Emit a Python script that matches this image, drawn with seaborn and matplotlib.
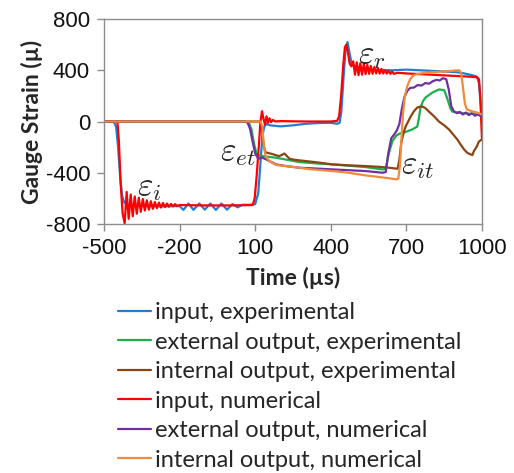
import pandas as pd
import matplotlib
matplotlib.use('Agg')
import matplotlib.pyplot as plt
import seaborn as sns

# input, experimental
t_in_exp = [-500, -462, -452, -444, -436, -428, -420, -410, -400, -350, -300, -250, -200, -185, -165, -145,
            -122, -100, -78, -56, -34, -12, 10, 30, 50, 80, 100, 112, 120, 128, 136, 145, 160, 200, 250,
            300, 350, 400, 425, 435, 442, 450, 458, 466, 474, 482, 490, 500, 520, 550, 600, 650, 700, 750,
            800, 850, 900, 930, 960, 980, 988, 994, 1000]
v_in_exp = [0, 0, -40, -200, -430, -580, -630, -650, -655, -660, -662, -662, -660, -690, -640, -690,
            -640, -688, -640, -690, -640, -688, -645, -670, -650, -650, -645, -560, -350, -120, -40, -20, -30, -38, -30,
            -18, -12, -10, -18, -10, 80, 330, 540, 620, 540, 455, 440, 430, 420, 405, 400, 400, 405, 400,
            395, 390, 385, 375, 362, 350, 300, 150, 60]

# external output, experimental
t_ext_exp = [-500, 60, 75, 85, 95, 105, 115, 130, 150, 183, 230, 276, 350, 407, 470, 539, 605, 618, 630,
             645, 660, 672, 691, 723, 743, 750, 756, 766, 776, 803, 829, 850, 862, 875, 882, 920, 960, 1000]
v_ext_exp = [0, 0, -10, -60, -170, -250, -265, -270, -275, -283, -300, -317, -328, -335, -345, -356, -374, -370, -250,
             -150, -110, -95, -86, -62, -40, 30, 109, 160, 187, 226, 250, 245, 180, 100, 78, 65, 60, 50]

# internal output, experimental
t_int_exp = [-500, 120, 127, 133, 140, 150, 160, 170, 185, 196, 206, 216, 226, 236, 260, 302, 350, 407, 470,
             539, 600, 632, 665, 672, 680, 690, 697, 707, 717, 730, 743, 755, 763, 775, 789, 810, 829, 850,
             869, 885, 902, 915, 929, 942, 955, 962, 968, 978, 988, 1000]
v_int_exp = [0, 0, -60, -180, -240, -245, -250, -255, -265, -270, -260, -250, -270, -291, -300, -309, -320, -335, -342,
             -348, -355, -361, -369, -300, -160, -80, -39, 0, 39, 80, 109, 115, 117, 105, 78, 40, 0, -30,
             -62, -100, -140, -180, -218, -245, -257, -262, -230, -200, -156, -140]

# input, numerical
t_in_num = [-500, -447, -441, -434, -426, -418, -410, -402, -394, -386, -378, -370, -362, -354, -346, -338,
            -330, -322, -314, -306, -298, -290, -282, -274, -266, -258, -250, -242, -234, -226, -218, -210,
            -200, -100, 0, 90, 98, 106, 114, 121, 127, 133, 139, 145, 151, 157, 163, 170, 180, 200, 300, 400,
            425, 433, 441, 449, 456, 462, 468, 475, 482, 489, 496, 503, 510, 517, 524, 531, 538, 545, 552,
            559, 566, 573, 580, 587, 594, 601, 608, 615, 622, 629, 636, 643, 650, 665, 700, 750, 800, 850,
            900, 950, 980, 988, 993, 997, 1000]
v_in_num = [0, 0, -150, -480, -720, -795, -550, -760, -570, -740, -585, -720, -595, -705, -605, -695,
            -615, -688, -622, -682, -628, -676, -633, -672, -636, -668, -640, -665, -643, -662, -645, -660,
            -652, -655, -655, -652, -600, -420, -200, 0, 80, 20, -25, 40, -10, 25, -5, 12, 0, 3, 0, 0,
            5, 40, 200, 430, 580, 600, 540, 450, 430, 470, 365, 462, 362, 455, 365, 450, 370, 442, 372,
            434, 372, 426, 375, 418, 374, 410, 374, 402, 374, 396, 372, 390, 372, 380, 375, 370, 365, 360,
            355, 350, 345, 330, 200, 0, -140]

# external output, numerical
t_ext_num = [-500, 60, 70, 80, 90, 100, 110, 118, 125, 144, 183, 230, 276, 350, 407, 470, 539, 605, 618,
             628, 640, 652, 662, 672, 682, 692, 704, 715, 730, 745, 760, 775, 790, 805, 820, 832, 845, 858,
             868, 878, 888, 900, 912, 924, 936, 948, 960, 972, 984, 1000]
v_ext_num = [0, 0, -10, -60, -160, -250, -283, -290, -280, -296, -335, -350, -361, -368, -374, -380, -387, -400, -395,
             -250, -130, -100, -70, -20, 100, 190, 240, 262, 265, 285, 280, 300, 295, 315, 325, 320, 338, 330,
             250, 120, 80, 65, 75, 55, 70, 50, 65, 45, 55, 35]

# internal output, numerical
t_int_num = [-500, 122, 128, 134, 140, 150, 165, 185, 230, 276, 315, 407, 470, 539, 600, 645, 660, 668,
             674, 680, 686, 694, 704, 715, 728, 745, 770, 800, 850, 880, 909, 917, 925, 932, 940, 960, 980, 1000]
v_int_num = [0, 0, -40, -180, -260, -295, -320, -340, -350, -361, -372, -387, -400, -421, -435, -447, -452, -445,
             -350, -150, 50, 200, 280, 330, 360, 372, 378, 385, 390, 395, 400, 380, 260, 140, 94, 80, 70, 55]

labels = ['input, experimental', 'external output, experimental', 'internal output, experimental',
          'input, numerical', 'external output, numerical', 'internal output, numerical']
colors = ['#1f7fd6', '#1fae4c', '#8b4513', '#ff0000', '#7030a0', '#f08a3c']
times = [t_in_exp, t_ext_exp, t_int_exp, t_in_num, t_ext_num, t_int_num]
values = [v_in_exp, v_ext_exp, v_int_exp, v_in_num, v_ext_num, v_int_num]

df = pd.concat([pd.DataFrame({'t': t, 'v': v, 'series': name})
                for t, v, name in zip(times, values, labels)], ignore_index=True)

sns.set_theme(style='white')
plt.rcParams['font.family'] = ['Liberation Sans', 'DejaVu Sans']
plt.rcParams['mathtext.fontset'] = 'cm'
plt.rcParams['axes.unicode_minus'] = False

fig = plt.figure(figsize=(5.14, 4.73), dpi=100)
ax = fig.add_axes([104 / 514, 1 - 224 / 473, 378 / 514, 205 / 473])

sns.lineplot(data=df, x='t', y='v', hue='series', hue_order=labels, palette=colors,
             sort=False, estimator=None, lw=1.6, ax=ax)

ax.set_xlim(-500, 1000)
ax.set_ylim(-800, 800)
ax.set_xticks([-500, -200, 100, 400, 700, 1000])
ax.set_yticks([-800, -400, 0, 400, 800])
for s in ax.spines.values():
    s.set_color('#8c8c8c')
    s.set_linewidth(1.0)
ax.tick_params(axis='both', direction='out', length=5, width=1, color='#8c8c8c',
               labelsize=16, pad=5, left=True, bottom=True, labelcolor='#111111')

ax.set_xlabel('Time (µs)', fontsize=16.5, fontweight='bold', family='Lato', labelpad=6)
ax.set_ylabel('Gauge Strain (µ)', fontsize=16.5, fontweight='bold', family='Lato', labelpad=2)

ax.text(-322, -515, r'$\varepsilon_{i}$', fontsize=24, ha='center', va='center')
ax.text(561, 515, r'$\varepsilon_{r}$', fontsize=24, ha='center', va='center')
ax.text(30, -242, r'$\varepsilon_{et}$', fontsize=24, ha='center', va='center')
ax.text(743, -343, r'$\varepsilon_{it}$', fontsize=24, ha='center', va='center')

handles, labs = ax.get_legend_handles_labels()
ax.get_legend().remove()
fig.legend(handles, labs, loc='upper left', bbox_to_anchor=(118 / 514, 1 - 302 / 473),
           frameon=False, borderpad=0, borderaxespad=0, handlelength=1.4, handletextpad=0.15,
           labelspacing=0.36, prop={'family': 'Lato', 'size': 17})

fig.savefig('out.png', dpi=100)
